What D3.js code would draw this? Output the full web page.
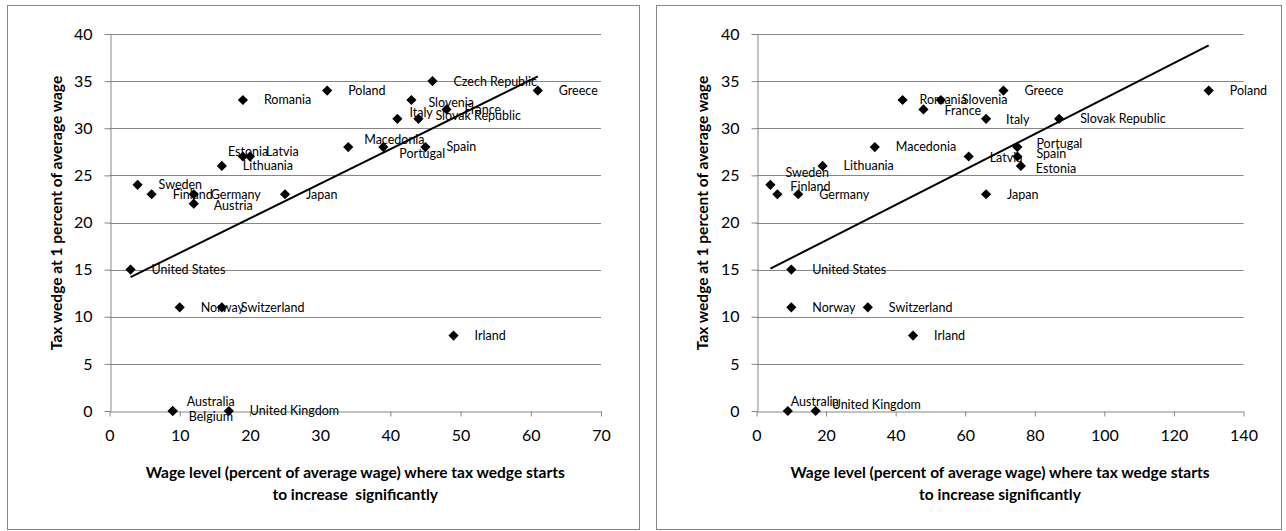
<!DOCTYPE html>
<html>
<head>
<meta charset="utf-8">
<script src="https://cdn.jsdelivr.net/npm/d3@7"></script>
<style>
  body { margin: 0; background: #fff; }
  text { font-family: Lato, "Open Sans", sans-serif; fill: #000; }
</style>
</head>
<body>
<div id="chart"></div>
<script>
// ---- data: left panel ----
const leftNames = ["United States", "Sweden", "Finland", "Germany", "Austria", "Lithuania", "Estonia", "Latvia",
  "Romania", "Poland", "Japan", "Macedonia", "Portugal", "Spain", "Italy", "Slovak Republic", "Slovenia",
  "France", "Czech Republic", "Greece", "Norway", "Switzerland", "Australia", "Belgium", "United Kingdom", "Irland"];
const leftX = [3, 4, 6, 12, 12, 16, 19, 20, 19, 31, 25, 34, 39, 45, 41, 44, 43, 48, 46, 61, 10, 16, 9, 9, 17, 49];
const leftY = [15, 24, 23, 23, 22, 26, 27, 27, 33, 34, 23, 28, 28, 28, 31, 31, 33, 32, 35, 34, 11, 11, 0, 0, 0, 8];
const leftTrendX = [3, 61];
const leftTrendY = [14.2, 35.5];
const leftXTicks = [0, 10, 20, 30, 40, 50, 60, 70];

// ---- data: right panel ----
const rightNames = ["Sweden", "Finland", "Germany", "Lithuania", "Macedonia", "Romania", "Slovenia", "France",
  "Greece", "Italy", "Latvia", "Portugal", "Spain", "Estonia", "Japan", "Slovak Republic", "Poland",
  "United States", "Norway", "Switzerland", "Irland", "Australia", "United Kingdom"];
const rightX = [4, 6, 12, 19, 34, 42, 53, 48, 71, 66, 61, 75, 75, 76, 66, 87, 130, 10, 10, 32, 45, 9, 17];
const rightY = [24, 23, 23, 26, 28, 33, 33, 32, 34, 31, 27, 28, 27, 26, 23, 31, 34, 15, 11, 11, 8, 0, 0];
const rightTrendX = [4, 130];
const rightTrendY = [15.1, 38.8];
const rightXTicks = [0, 20, 40, 60, 80, 100, 120, 140];

const yTicks = [0, 5, 10, 15, 20, 25, 30, 35, 40];
const yTitle = "Tax wedge at 1 percent of average wage";
const leftXTitle = ["Wage level (percent of average wage) where tax wedge starts", "to increase  significantly"];
const rightXTitle = ["Wage level (percent of average wage) where tax wedge starts", "to increase significantly"];

// label nudges (px from marker centre to label start), layout only
const leftNudge = {
  "Germany": [17, 0], "Austria": [20, 2], "Estonia": [-15, -5], "Latvia": [16, -5],
  "Macedonia": [16, -7], "Portugal": [16, 7], "Italy": [12, -6], "Slovak Republic": [17, -3],
  "Slovenia": [17, 3], "France": [18, 0], "Switzerland": [19, 0], "Australia": [14, -9], "Belgium": [16, 6]
};
const rightNudge = {
  "Sweden": [15, -12], "Finland": [13, -8], "Romania": [17, 0], "France": [21, 1], "Italy": [20, 1],
  "Latvia": [21, 1], "Portugal": [19, -3], "Spain": [19, -3], "Estonia": [15, 3],
  "Australia": [3, -9], "United Kingdom": [16, -6]
};

const W = 1286, H = 531;
const svg = d3.select("#chart").append("svg")
  .attr("width", W)
  .attr("height", H);

function drawPanel(p) {
  // outer frame
  svg.append("rect")
    .attr("x", p.box[0] + 0.5).attr("y", p.box[1] + 0.5)
    .attr("width", p.box[2]).attr("height", p.box[3])
    .attr("fill", "#fff").attr("stroke", "#868686").attr("stroke-width", 1);

  const x = d3.scaleLinear().domain([0, p.xMax]).range([p.x0, p.x1]);
  const y = d3.scaleLinear().domain([0, 40]).range([411, 34]);

  // gridlines
  svg.append("g").selectAll("line")
    .data(yTicks.filter(d => d > 0))
    .enter().append("line")
    .attr("x1", p.x0).attr("x2", p.x1)
    .attr("y1", d => Math.round(y(d)) + 0.5).attr("y2", d => Math.round(y(d)) + 0.5)
    .attr("stroke", "#868686").attr("stroke-width", 1);

  // axes
  const gx = svg.append("g")
    .attr("transform", `translate(0,${Math.round(y(0)) + 0.5})`)
    .call(d3.axisBottom(x).tickValues(p.xTicks).tickSize(5).tickSizeOuter(0).tickPadding(13));
  const gy = svg.append("g")
    .attr("transform", `translate(${Math.round(p.x0) + 0.5},0)`)
    .call(d3.axisLeft(y).tickValues(yTicks).tickSize(6).tickSizeOuter(0).tickPadding(12));
  [gx, gy].forEach(g => {
    g.select(".domain").attr("stroke", "#868686");
    g.selectAll(".tick line").attr("stroke", "#868686");
    g.selectAll(".tick text").attr("fill", "#000")
      .style("font-family", "Lato, 'Open Sans', sans-serif").style("font-size", "16px");
  });

  // trend line
  const trend = p.trendX.map((v, i) => [v, p.trendY[i]]);
  svg.append("path")
    .datum(trend)
    .attr("d", d3.line().x(d => x(d[0])).y(d => y(d[1])))
    .attr("fill", "none").attr("stroke", "#000").attr("stroke-width", 2);

  // markers
  const pts = p.names.map((n, i) => ({ name: n, x: p.xs[i], y: p.ys[i] }));
  svg.append("g").selectAll("path")
    .data(pts)
    .enter().append("path")
    .attr("d", d3.symbol().type(d3.symbolSquare).size(52))
    .attr("transform", d => `translate(${x(d.x)},${y(d.y)}) rotate(45)`)
    .attr("fill", "#000");

  // labels
  svg.append("g").selectAll("text")
    .data(pts)
    .enter().append("text")
    .attr("x", d => x(d.x) + (p.nudge[d.name] || [21, 0])[0])
    .attr("y", d => y(d.y) + (p.nudge[d.name] || [21, 0])[1])
    .attr("dy", "0.35em")
    .style("font-size", "12.5px")
    .text(d => d.name);

  // axis titles
  svg.append("text")
    .attr("transform", `translate(${p.yTitleX},213) rotate(-90)`)
    .attr("text-anchor", "middle")
    .attr("dy", "0.35em")
    .style("font-size", "15.5px").style("font-weight", "bold")
    .text(yTitle);

  svg.append("g").selectAll("text")
    .data(p.xTitle)
    .enter().append("text")
    .attr("x", (p.x0 + p.x1) / 2)
    .attr("y", (d, i) => 473 + i * 22)
    .attr("dy", "0.35em")
    .attr("text-anchor", "middle")
    .style("font-size", "15.5px").style("font-weight", "bold")
    .style("white-space", "pre")
    .text(d => d);
}

drawPanel({
  box: [7, 5, 632, 524], x0: 109.5, x1: 601, xMax: 70, xTicks: leftXTicks,
  names: leftNames, xs: leftX, ys: leftY, trendX: leftTrendX, trendY: leftTrendY,
  nudge: leftNudge, xTitle: leftXTitle, yTitleX: 57
});
drawPanel({
  box: [656, 5, 625, 524], x0: 756.5, x1: 1243.5, xMax: 140, xTicks: rightXTicks,
  names: rightNames, xs: rightX, ys: rightY, trendX: rightTrendX, trendY: rightTrendY,
  nudge: rightNudge, xTitle: rightXTitle, yTitleX: 703
});
</script>
</body>
</html>
